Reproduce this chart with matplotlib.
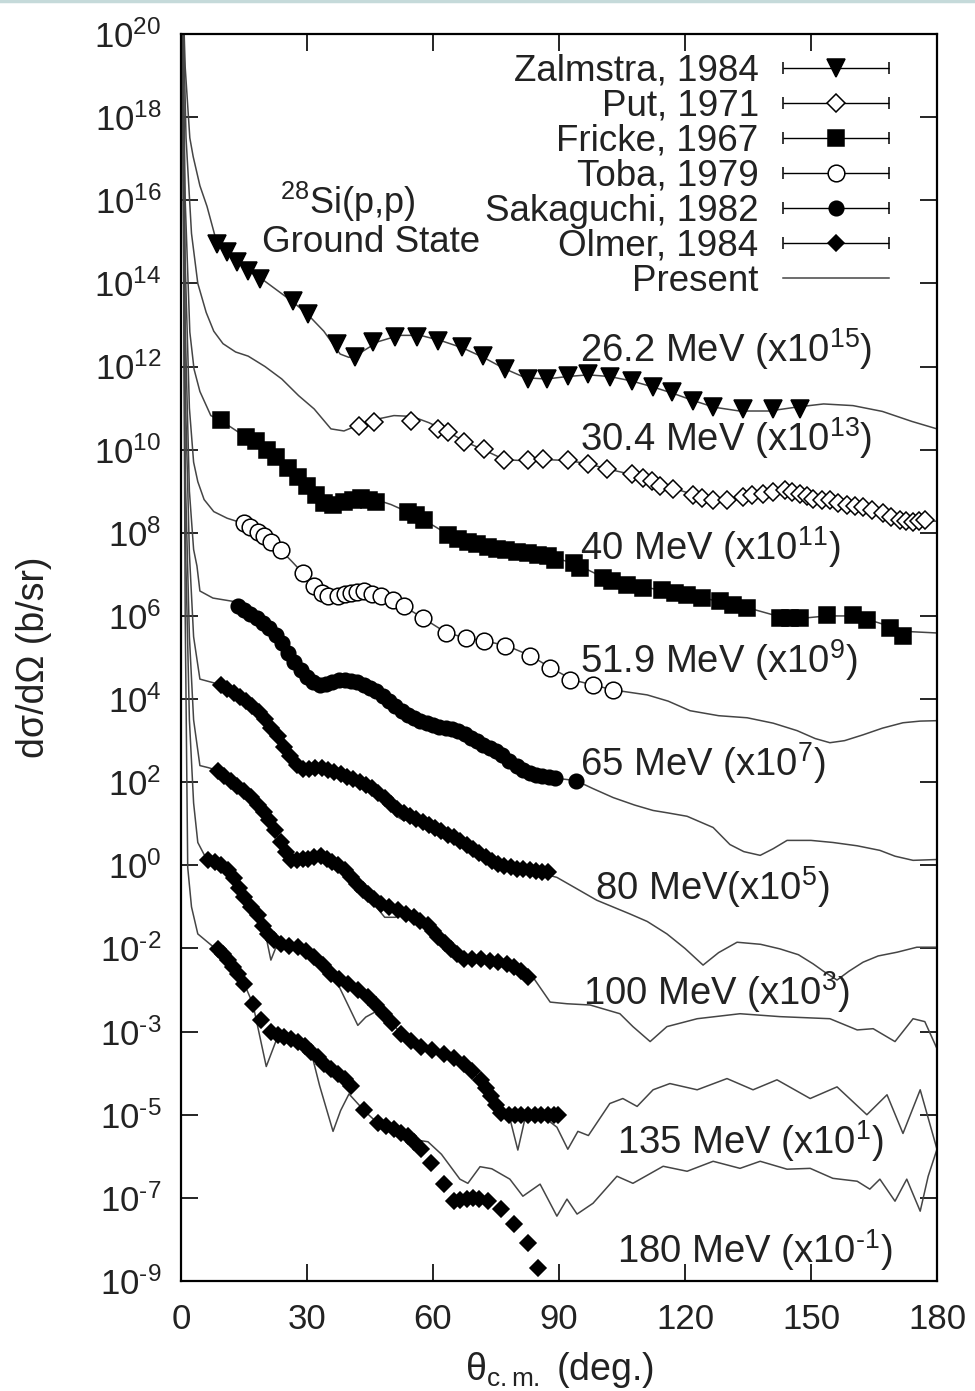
import numpy as np
import matplotlib
matplotlib.use('Agg')
import matplotlib.pyplot as plt
from matplotlib.container import ErrorbarContainer
from matplotlib.legend_handler import HandlerErrorbar
from matplotlib.lines import Line2D
from matplotlib.ticker import NullLocator

plt.rcParams['font.family'] = ['Liberation Sans', 'DejaVu Sans']
plt.rcParams['mathtext.fontset'] = 'custom'
plt.rcParams['mathtext.rm'] = 'Liberation Sans'
plt.rcParams['mathtext.it'] = 'Liberation Sans:italic'
plt.rcParams['mathtext.bf'] = 'Liberation Sans:bold'

# ---- theory curves ("Present"), (theta_cm, log10 of plotted value) ----
th262 = [(0.3, 21.5), (1.0, 19.2), (2.1, 17.5), (2.9, 17.05), (4.5, 16.35), (6.2, 15.85), (8.6, 14.95),
         (11, 14.7), (16, 14.3), (20, 14.05), (26.7, 13.55), (30.2, 13.25), (34, 12.85), (37.9, 12.3),
         (40, 12.22), (43, 12.35), (47, 12.6), (52, 12.75), (57, 12.75), (62, 12.62), (67, 12.45),
         (72, 12.22), (77, 11.95), (82, 11.73), (87, 11.7), (92, 11.76), (97, 11.8), (102, 11.76),
         (107, 11.66), (112, 11.52), (117, 11.36), (122, 11.18), (127, 11.02), (133, 10.93), (140, 10.93),
         (147, 11.03), (153, 11.1), (160, 11.06), (167, 10.92), (174, 10.68), (180, 10.5)]
th304 = [(0.3, 21.5), (1.2, 17.5), (2.5, 15.2), (4.0, 14.0), (6.0, 13.3), (7.8, 12.85), (10, 12.55),
         (13, 12.35), (16, 12.25), (20, 12.0), (24, 11.7), (28, 11.3), (31.7, 10.98), (35.7, 10.5),
         (38.8, 10.45), (42.4, 10.6), (46, 10.72), (50.7, 10.82), (55, 10.8), (59, 10.65), (63.6, 10.43),
         (67.4, 10.2), (72, 10.0), (77, 9.76), (82.6, 9.73), (87, 9.76), (92, 9.74), (97, 9.66),
         (101.4, 9.54), (107.4, 9.4), (112, 9.25), (117, 9.08), (122, 8.92), (127, 8.8), (131, 8.8),
         (135, 8.87), (139, 8.95), (144, 8.98), (148, 8.93), (152, 8.83), (157, 8.7), (162, 8.6),
         (167, 8.47), (172, 8.33), (176, 8.28), (180, 8.28)]
th40 = [(0.3, 21.5), (1.0, 16.0), (2.1, 12.83), (3.1, 11.94), (4.5, 11.4), (7.1, 10.82), (9.5, 10.7),
        (12.5, 10.5), (15.5, 10.3), (18, 10.15), (22.6, 9.83), (27.9, 9.35), (32, 8.9), (35.5, 8.68),
        (38.8, 8.7), (42.9, 8.83), (46.4, 8.8), (50, 8.68), (54, 8.5), (58, 8.3), (63.6, 7.96),
        (68.3, 7.8), (73, 7.67), (78, 7.56), (83, 7.48), (87.4, 7.43), (93.6, 7.27), (100.5, 6.93),
        (106.2, 6.76), (114.5, 6.62), (120.5, 6.5), (128.3, 6.35), (134.8, 6.2), (142.6, 5.98),
        (147.4, 5.94), (153.8, 6.0), (160, 6.0), (164, 5.9), (168.8, 5.75), (174, 5.62), (180, 5.59)]
th519 = [(0.3, 21.5), (1.0, 14.5), (2.0, 11.0), (3.0, 9.7), (4.0, 9.23), (5.5, 8.8), (7.8, 8.51),
         (11, 8.35), (13.5, 8.27), (15, 8.2), (18.3, 8.03), (21.4, 7.79), (23.8, 7.58), (26.5, 7.3),
         (29, 7.03), (31.7, 6.72), (35, 6.48), (37.4, 6.45), (40.5, 6.53), (43.6, 6.57), (47.6, 6.48),
         (50.5, 6.37), (53.1, 6.23), (57.6, 5.95), (63.1, 5.6), (67.9, 5.47), (72.1, 5.4), (77.4, 5.29),
         (83.3, 5.04), (88.1, 4.75), (93.3, 4.46), (98.1, 4.34), (102.9, 4.22), (111, 4.1), (116, 3.95),
         (121.2, 3.72), (128, 3.6), (134.8, 3.55), (141, 3.42), (146.7, 3.24), (151, 3.05), (154.5, 2.95),
         (158, 3.0), (162.4, 3.14), (167, 3.3), (171.9, 3.43), (176, 3.47), (180, 3.48)]
th65 = [(0.3, 21.5), (1.0, 13.0), (2.0, 9.0), (3.0, 7.6), (3.8, 7.2), (4.5, 6.6), (7.6, 6.43),
        (12.4, 6.35), (13.6, 6.23), (18.3, 5.95), (23.1, 5.47), (26.2, 5.0), (30.2, 4.52), (33.3, 4.33),
        (36, 4.4), (39, 4.45), (42.1, 4.4), (46.9, 4.2), (50.7, 3.85), (55.5, 3.56), (60.2, 3.38),
        (65.9, 3.22), (69.8, 3.02), (74.5, 2.78), (79.3, 2.42), (84, 2.18), (88.8, 2.1), (94, 2.04),
        (98, 1.85), (102.9, 1.63), (108, 1.45), (112.4, 1.32), (116, 1.26), (120.5, 1.18), (126.7, 0.91),
        (130.7, 0.5), (134, 0.33), (137.9, 0.24), (141, 0.4), (144.3, 0.6), (150, 0.6), (155.2, 0.55),
        (161, 0.47), (166.4, 0.36), (170, 0.22), (174.3, 0.12), (180, 0.14)]
th80 = [(0.3, 21.5), (1.0, 11.5), (2.0, 7.5), (3.0, 5.5), (4.5, 4.48), (7.8, 4.39), (9.5, 4.3),
        (14.3, 4.03), (18.3, 3.72), (21.4, 3.31), (23.8, 3.0), (26.2, 2.6), (29.3, 2.32), (33.3, 2.33),
        (37.4, 2.22), (41.2, 2.06), (45.2, 1.87), (48.3, 1.6), (51, 1.2), (53, 1.08), (55.5, 1.12),
        (60.2, 0.91), (65, 0.67), (69, 0.43), (73.8, 0.12), (78.6, -0.05), (83.3, -0.12), (89.5, -0.29),
        (94, -0.55), (99, -0.84), (106.9, -1.17), (111, -1.35), (115.7, -1.65), (120, -2.0), (124.3, -2.4),
        (128, -2.1), (132.4, -1.85), (138, -1.9), (142.6, -2.01), (147, -2.15), (150.5, -2.37),
        (153, -2.55), (156.2, -2.76), (159, -2.55), (162.4, -2.33), (166, -2.18), (170.5, -2.09),
        (175.2, -1.97), (180, -1.97)]
th100 = [(0.3, 21.5), (1.0, 9.5), (2.0, 5.5), (3.0, 3.5), (4.5, 2.4), (6.5, 2.35), (8.8, 2.28),
         (11.9, 2.04), (15, 1.8), (18.3, 1.46), (21, 1.1), (23.8, 0.55), (26.2, 0.14), (30.2, 0.14),
         (33.3, 0.22), (37.4, 0.02), (40.5, -0.29), (44.5, -0.7), (46.5, -1.0), (48.5, -1.25), (51, -1.25),
         (53.5, -1.15), (55.5, -1.25), (58.8, -1.44), (61.2, -1.73), (64.3, -2.01), (67.4, -2.25),
         (71.4, -2.25), (75.5, -2.33), (79.3, -2.45), (83.8, -2.69), (87.9, -3.29), (91.9, -3.33),
         (97.4, -3.36), (104.5, -3.57), (107.6, -3.88), (111.7, -4.24), (115.7, -3.88), (122.9, -3.69),
         (133.1, -3.57), (142.6, -3.64), (154.5, -3.69), (161, -3.96), (164.8, -3.93), (170, -4.24),
         (174.3, -3.69), (177.1, -3.76), (180, -4.41)]
th135 = [(0.3, 21.5), (1.0, 8.0), (2.0, 3.5), (3.0, 1.5), (4.0, 0.55), (5.5, 0.26), (6.4, 0.14),
         (9, 0.0), (11.5, -0.2), (15, -0.7), (18.3, -1.2), (19.8, -1.5), (21.4, -2.28), (22.5, -2.0),
         (24.4, -1.88), (27.9, -1.97), (31.7, -2.21), (34, -2.45), (36.5, -2.68), (39, -3.2), (42.1, -3.85),
         (44, -3.65), (46, -3.54), (48.3, -3.57), (52.4, -4.05), (57.1, -4.36), (62.6, -4.53),
         (67.4, -4.77), (71.4, -5.16), (73.8, -5.56), (76.2, -5.97), (78.2, -6.05), (80.2, -6.85),
         (82, -6.05), (85.7, -6.0), (89.5, -6.3), (92.1, -6.83), (94.5, -6.4), (97, -6.5), (102.1, -5.73),
         (105.2, -5.61), (108.6, -5.8), (112.4, -5.4), (116.4, -5.25), (122.9, -5.4), (130, -5.13),
         (136.2, -5.4), (141.9, -5.16), (149.8, -5.61), (156.2, -5.33), (163.3, -6.0), (168.1, -5.52),
         (171.9, -6.45), (176, -5.4), (180, -6.83)]
th180 = [(0.3, 21.5), (1.0, 6.0), (1.6, -0.05), (2.5, -1.0), (4.0, -1.65), (7.8, -1.97), (8.8, -2.01),
         (11.2, -2.28), (13.6, -2.61), (15.7, -3.0), (17.1, -3.33), (20.3, -4.84), (22.9, -4.15),
         (24.5, -4.12), (27.9, -4.24), (31, -4.5), (33, -5.3), (36.2, -6.4), (38, -5.9), (40, -5.5),
         (43.6, -5.9), (46.9, -6.21), (50.7, -6.35), (55.5, -6.6), (58.8, -6.65), (62, -6.95),
         (66.4, -7.55), (68.3, -7.65), (71.2, -7.25), (74, -7.3), (78.3, -7.55), (81.4, -7.96),
         (85.5, -7.67), (89.5, -8.44), (91.9, -8.03), (94.3, -8.39), (98.1, -8.13), (103.8, -7.48),
         (107.6, -7.65), (114.8, -7.24), (120.5, -7.36), (126.7, -7.12), (133.1, -7.29), (137.9, -7.12),
         (144.3, -7.31), (149.8, -7.29), (155.2, -7.53), (161, -7.6), (164, -7.79), (166.4, -7.55),
         (170, -8.08), (172.8, -7.55), (176, -8.32), (177.9, -7.48), (180, -6.83)]

# ---- measured data, (theta_cm, log10 of plotted value) ----
zal262 = [(8.6, 14.94), (11.0, 14.75), (13.3, 14.51), (16.0, 14.29), (18.8, 14.10), (26.7, 13.57),
          (30.2, 13.26), (37.1, 12.54), (41.4, 12.23), (45.7, 12.59), (51.0, 12.71), (56.2, 12.71),
          (61.2, 12.61), (66.9, 12.47), (71.9, 12.25), (77.1, 11.94), (82.6, 11.70), (87.1, 11.70),
          (92.1, 11.77), (96.9, 11.82), (102.1, 11.75), (107.4, 11.65), (112.4, 11.51), (116.9, 11.39),
          (121.9, 11.17), (126.7, 11.03), (133.8, 10.98), (141.0, 10.98), (147.4, 10.98)]
put304 = [(42.4, 10.58), (46.0, 10.67), (54.8, 10.70), (61.2, 10.50), (63.6, 10.43), (67.4, 10.19),
          (72.1, 10.02), (76.9, 9.76), (82.6, 9.74), (86.2, 9.78), (92.1, 9.74), (96.9, 9.66),
          (101.4, 9.54), (107.4, 9.42), (110, 9.33), (112.1, 9.24), (114, 9.12), (117.1, 9.06),
          (121.9, 8.90), (124, 8.84), (126.7, 8.78), (130, 8.78), (133.8, 8.87), (136, 8.90),
          (138.6, 8.94), (141, 8.98), (143.8, 9.02), (145.5, 8.98), (147.4, 8.94), (149, 8.88),
          (150.5, 8.82), (152.5, 8.80), (154.5, 8.78), (156.5, 8.72), (158.6, 8.66), (160.5, 8.65),
          (162.4, 8.63), (164.5, 8.56), (167.1, 8.47), (169, 8.38), (171.2, 8.30), (172.7, 8.28),
          (174.3, 8.27), (175.7, 8.28), (177.1, 8.30)]
fri40 = [(9.5, 10.72), (15.5, 10.31), (17.9, 10.22), (20.5, 10.0), (22.6, 9.83), (25.5, 9.55),
         (27.9, 9.35), (30, 9.12), (32.1, 8.90), (34, 8.72), (36.2, 8.66), (38.8, 8.75), (41, 8.80),
         (42.9, 8.83), (44.8, 8.80), (46.4, 8.75), (54, 8.51), (56, 8.42), (57.9, 8.30), (63.6, 7.94),
         (66, 7.86), (68.3, 7.79), (70.5, 7.72), (73.1, 7.67), (75.2, 7.62), (77.4, 7.58), (80, 7.54),
         (82.6, 7.51), (85, 7.46), (87.4, 7.43), (89, 7.34), (93.6, 7.27), (95, 7.15), (100.5, 6.91),
         (102.5, 6.84), (106.2, 6.74), (110, 6.68), (114.5, 6.62), (117.5, 6.56), (120.5, 6.50),
         (124, 6.43), (128.3, 6.35), (131.5, 6.27), (134.8, 6.19), (142.6, 5.95), (145, 5.95),
         (147.4, 5.95), (153.8, 6.02), (160, 6.02), (163.3, 5.90), (168.8, 5.71), (171.9, 5.52)]
tob519 = [(15, 8.23), (16.5, 8.15), (18.3, 8.03), (19.8, 7.92), (21.4, 7.79), (23.8, 7.58), (29, 7.03),
          (31.7, 6.71), (33.5, 6.55), (35, 6.47), (37.4, 6.47), (39, 6.52), (40.5, 6.55), (42, 6.58),
          (43.6, 6.59), (45.5, 6.53), (47.6, 6.47), (50.5, 6.38), (53.1, 6.23), (57.6, 5.95), (63.1, 5.60),
          (67.9, 5.47), (72.1, 5.40), (77.1, 5.28), (83.1, 5.04), (87.9, 4.75), (92.6, 4.46), (98.1, 4.34),
          (102.9, 4.22)]
sak65 = [(13.6, 6.23), (15, 6.15), (16.5, 6.05), (18, 5.95), (19.5, 5.83), (21, 5.70), (22.5, 5.55),
         (24, 5.35), (25.5, 5.12), (27, 4.90), (28.5, 4.70), (30, 4.52), (31.5, 4.40), (33, 4.33),
         (34.5, 4.36), (36, 4.42), (37.5, 4.45), (39, 4.45), (40.5, 4.44), (42, 4.40), (43.5, 4.34),
         (45, 4.27), (46.5, 4.20), (48, 4.08), (49.5, 3.95), (51, 3.83), (52.5, 3.72), (54, 3.62),
         (55.5, 3.55), (57, 3.48), (58.5, 3.43), (60, 3.38), (61.5, 3.34), (63, 3.30), (64.5, 3.27),
         (66, 3.23), (67.5, 3.15), (69, 3.06), (70.5, 2.98), (72, 2.90), (73.5, 2.83), (75, 2.76),
         (76.5, 2.66), (78, 2.52), (80, 2.40), (81.5, 2.30), (83, 2.22), (84.5, 2.17), (86, 2.14),
         (87.5, 2.12), (89, 2.10), (94, 2.04)]
olm80 = [(9.5, 4.34), (11, 4.25), (12.5, 4.15), (14, 4.05), (15.5, 3.95), (17, 3.83), (18.5, 3.70),
         (20, 3.52), (21.5, 3.30), (23, 3.10), (24.5, 2.85), (26, 2.62), (27.5, 2.42), (29, 2.32),
         (30.5, 2.32), (32, 2.35), (33.5, 2.33), (35, 2.30), (36.5, 2.25), (38, 2.20), (39.5, 2.13),
         (41, 2.07), (42.5, 2.00), (44, 1.93), (45.5, 1.85), (47, 1.75), (48.5, 1.62), (50, 1.48),
         (51.5, 1.35), (53, 1.25), (54.5, 1.18), (56, 1.12), (57.5, 1.05), (59, 0.97), (60.5, 0.90),
         (62, 0.82), (63.5, 0.74), (65, 0.67), (66.5, 0.58), (68, 0.50), (69.5, 0.40), (71, 0.30),
         (72.5, 0.20), (74, 0.10), (75.5, 0.03), (77, -0.02), (78.5, -0.05), (80, -0.08), (81.5, -0.10),
         (83, -0.12), (84.5, -0.14), (86, -0.15), (87.4, -0.17)]
olm100 = [(8.8, 2.28), (10.3, 2.16), (11.9, 2.04), (13.4, 1.92), (15, 1.80), (16.6, 1.64), (18.3, 1.46),
          (19.7, 1.28), (21, 1.10), (22.4, 0.85), (23.8, 0.55), (25, 0.32), (26.2, 0.14), (27.6, 0.12),
          (29, 0.15), (30.2, 0.16), (31.7, 0.20), (33.3, 0.22), (34.8, 0.15), (36, 0.08), (37.4, 0.02),
          (39, -0.12), (40.5, -0.29), (42, -0.45), (43.3, -0.60), (44.5, -0.70), (46, -0.82), (47.6, -0.94),
          (49.5, -1.00), (51.7, -1.08), (53.5, -1.16), (55.5, -1.25), (57, -1.33), (58.8, -1.44),
          (60, -1.58), (61.2, -1.73), (62.8, -1.87), (64.3, -2.01), (65.8, -2.14), (67.4, -2.25),
          (69.4, -2.26), (71.4, -2.25), (73.5, -2.29), (75.5, -2.33), (77.5, -2.38), (79.3, -2.45),
          (81, -2.55), (82.6, -2.69)]
olm135 = [(6.4, 0.14), (8, 0.08), (9.6, 0.0), (11.2, -0.12), (12.5, -0.30), (13.8, -0.55), (15, -0.77),
          (16.6, -1.00), (18.3, -1.20), (19.5, -1.45), (20.7, -1.65), (22.2, -1.80), (23.8, -1.89),
          (25.8, -1.93), (27.9, -1.97), (29.8, -2.07), (31.7, -2.21), (33.7, -2.40), (35.7, -2.61),
          (37.7, -2.74), (39.8, -2.85), (42.1, -3.00), (44.5, -3.17), (46.4, -3.36), (48.3, -3.57),
          (50.3, -3.80), (52.4, -4.05), (54.8, -4.22), (57.1, -4.36), (59.8, -4.45), (62.6, -4.53),
          (65, -4.63), (67.4, -4.77), (69.4, -4.95), (71.4, -5.16), (72.6, -5.36), (73.8, -5.56),
          (75, -5.77), (76.2, -5.97), (78, -6.0), (79.6, -6.0), (81, -6.0), (82.6, -6.0), (84.2, -6.0),
          (85.7, -6.0), (87.3, -6.0), (88.9, -6.0), (89.8, -6.0)]
olm180 = [(8.8, -2.01), (10, -2.14), (11.2, -2.28), (12.4, -2.45), (13.6, -2.61), (15, -2.85),
          (17.1, -3.33), (19, -3.72), (21.4, -4.0), (23, -4.07), (24.5, -4.12), (26.2, -4.18),
          (27.9, -4.24), (29.5, -4.35), (31, -4.48), (32.5, -4.62), (34, -4.77), (35.7, -4.90),
          (37.4, -5.01), (39, -5.15), (40.5, -5.32), (43.6, -5.88), (46.9, -6.21), (48.8, -6.28),
          (50.7, -6.35), (52.3, -6.43), (54, -6.52), (55.5, -6.65), (57.1, -6.83), (59.5, -7.17),
          (62.6, -7.67), (65, -8.08), (66.5, -8.04), (68, -8.02), (69.5, -8.01), (71, -8.03),
          (73.1, -8.08), (76.2, -8.27), (79.3, -8.63), (82.6, -9.09), (85, -9.69)]

energy_labels = ['26.2 MeV (x10$^{15}$)', '30.4 MeV (x10$^{13}$)', '40 MeV (x10$^{11}$)',
                 '51.9 MeV (x10$^{9}$)', '65 MeV (x10$^{7}$)', '80 MeV(x10$^{5}$)',
                 '100 MeV (x10$^{3}$)', '135 MeV (x10$^{1}$)', '180 MeV (x10$^{\u2010 1}$)']
label_theta = [95.0, 95.0, 95.0, 95.0, 95.0, 98.6, 95.7, 103.8, 103.8]
label_logy = [12.11, 9.98, 7.36, 4.63, 2.16, -0.82, -3.36, -6.95, -9.57]

ytick_pos = [20, 18, 16, 14, 12, 10, 8, 6, 4, 2, 0, -2, -4, -6, -8, -10]
ytick_txt = ['20', '18', '16', '14', '12', '10', '8', '6', '4', '2', '0', '\u20102', '\u20103',
             '\u20105', '\u20107', '\u20109']

fig = plt.figure(figsize=(9.75, 13.91), dpi=100)
ax = fig.add_axes([181 / 975, 110 / 1391, 756 / 975, 1247 / 1391])
ax.set_yscale('log')

line_col = '#454545'
theory = [th262, th304, th40, th519, th65, th80, th100, th135, th180]
h_pres = None
for cur in theory:
    a = np.array(cur)
    ln, = ax.plot(a[:, 0], 10.0 ** a[:, 1], color=line_col, lw=1.1, zorder=2)
    h_pres = h_pres or ln


def plot_data(pts, marker, ms, mfc='k'):
    a = np.array(pts)
    return ax.errorbar(a[:, 0], 10.0 ** a[:, 1], xerr=0, fmt=marker, ms=ms, mfc=mfc, mec='k',
                       mew=1.1, color='k', ecolor='k', elinewidth=1.0, capsize=4.5, capthick=1.0,
                       zorder=3)


h_zal = plot_data(zal262, 'v', 12.5)
h_put = plot_data(put304, 'D', 9.5, 'white')
h_fri = plot_data(fri40, 's', 12)
h_tob = plot_data(tob519, 'o', 12, 'white')
h_sak = plot_data(sak65, 'o', 10.5)
h_olm = plot_data(olm80, 'D', 8.5)
plot_data(olm100, 'D', 8.5)
plot_data(olm135, 'D', 8.5)
plot_data(olm180, 'D', 8.5)

for txt, t, ly in zip(energy_labels, label_theta, label_logy):
    ax.text(t, 10.0 ** ly, txt, fontsize=27.5, va='baseline', ha='left', color='#222222', zorder=4)

ax.text(39.8, 10.0 ** 15.66, '$^{28}$Si(p,p)', fontsize=26, ha='center', va='baseline', color='#222222')
ax.text(45.2, 10.0 ** 14.75, 'Ground State', fontsize=26.5, ha='center', va='baseline', color='#222222')

ax.set_xlim(0, 180)
ax.set_ylim(1e-10, 1e20)
ax.set_xticks(range(0, 181, 30))
ax.set_yticks([10.0 ** k for k in ytick_pos])
ax.set_yticklabels(['10$^{%s}$' % s for s in ytick_txt])
ax.yaxis.set_minor_locator(NullLocator())
ax.tick_params(axis='both', direction='in', length=12, width=1.2, top=True, right=True,
               labelsize=25, labelcolor='#222222')
ax.tick_params(axis='x', pad=16)
ax.tick_params(axis='y', pad=14)
for sp in ax.spines.values():
    sp.set_linewidth(1.6)

ax.set_xlabel('θ$_{\\rm c.m.}$ (deg.)', fontsize=27, color='#222222')
ax.xaxis.set_label_coords(0.50, -0.055)
ax.set_ylabel('dσ/dΩ (b/sr)', fontsize=27, color='#222222')
ax.yaxis.set_label_coords(-0.170, 0.5)

leg = ax.legend([h_zal, h_put, h_fri, h_tob, h_sak, h_olm, h_pres],
                ['Zalmstra, 1984', 'Put, 1971', 'Fricke, 1967', 'Toba, 1979', 'Sakaguchi, 1982',
                 'Olmer, 1984', 'Present'],
                loc='upper right', bbox_to_anchor=(0.937, 0.984), frameon=False, markerfirst=False,
                fontsize=26.5, handlelength=2.9, handletextpad=0.65, labelspacing=0.0,
                borderpad=0, borderaxespad=0, numpoints=1,
                handler_map={ErrorbarContainer: HandlerErrorbar(xerr_size=1.45)})
for t in leg.get_texts():
    t.set_color('#222222')

fig.add_artist(Line2D([0, 1], [0.999, 0.999], color='#c5dada', lw=2.5))

fig.savefig('out.png', dpi=100)
